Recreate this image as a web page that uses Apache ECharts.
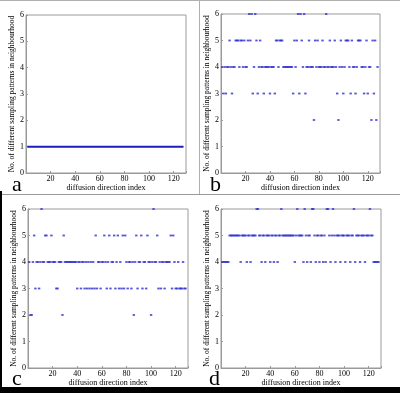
<!DOCTYPE html>
<html>
<head>
<meta charset="utf-8">
<script src="https://cdn.jsdelivr.net/npm/echarts@6/dist/echarts.min.js"></script>
<style>html,body{margin:0;padding:0;background:#fff}#c{width:400px;height:393px}</style>
</head>
<body>
<div id="c"></div>
<script>
// Values for diffusion direction index 1..128
const panelA = [1,1,1,1,1,1,1,1,1,1, 1,1,1,1,1,1,1,1,1,1, 1,1,1,1,1,1,1,1,1,1, 1,1,1,1,1,1,1,1,1,1,
  1,1,1,1,1,1,1,1,1,1, 1,1,1,1,1,1,1,1,1,1, 1,1,1,1,1,1,1,1,1,1, 1,1,1,1,1,1,1,1,1,1,
  1,1,1,1,1,1,1,1,1,1, 1,1,1,1,1,1,1,1,1,1, 1,1,1,1,1,1,1,1,1,1, 1,1,1,1,1,1,1,1,1,1,
  1,1,1,1,1,1,1,1];
const panelB = [4,3,4,3,4,4,5,4,3,4, 4,5,5,5,4,5,5,4,5,4, 4,5,6,5,6,3,4,6,5,3, 4,5,4,4,3,4,4,4,4,3,
  4,4,4,3,5,5,4,5,5,5, 4,4,4,4,4,4,4,4,3,5, 4,5,6,3,6,5,4,6,3,4, 4,5,4,4,4,2,5,4,5,4,
  4,4,5,4,4,6,4,4,5,4, 4,4,5,4,3,2,4,5,4,3, 4,5,5,5,4,3,5,4,4,3, 4,5,5,5,4,4,3,4,5,3,
  4,4,2,5,3,5,2,4];
const panelC = [4,2,2,4,5,3,4,4,3,4, 6,4,4,5,5,4,4,4,5,4, 4,4,3,3,4,4,4,2,5,4, 4,4,4,4,4,4,4,4,4,3,
  4,4,3,4,4,3,4,3,4,3, 4,3,4,3,5,3,4,4,3,4, 4,5,4,3,4,5,3,4,4,5, 3,4,5,3,4,3,5,3,5,4,
  3,4,4,3,4,2,4,5,3,4, 4,5,3,4,4,3,5,4,4,2, 4,6,4,4,5,3,4,3,4,4, 3,4,4,4,4,5,3,5,4,3,
  3,4,3,3,3,4,3,3];
const panelD = [4,4,4,4,4,4,5,5,5,5, 5,5,5,5,5,4,5,5,5,5, 4,5,5,4,5,5,5,5,6,6, 5,5,4,5,5,4,5,5,5,4,
  5,5,4,5,5,4,5,5,6,5, 5,5,5,5,5,5,5,5,5,4, 5,6,5,5,5,5,4,6,5,4, 5,5,4,6,6,5,4,5,5,4,
  5,5,4,5,4,6,6,5,4,5, 6,5,4,5,5,5,4,5,5,5, 4,5,5,5,4,5,5,6,4,5, 5,5,4,5,5,5,4,5,5,5,
  6,5,5,4,4,4,4,4];
const xTickLabels = [20, 40, 60, 80, 100, 120];
const yTickLabels = [0, 1, 2, 3, 4, 5, 6];
const panelLetters = ['a', 'b', 'c', 'd'];
const xName = 'diffusion direction index';
const yName = 'No. of different sampling patterns in neighbourhood';

const FONT = 'Liberation Serif';
const grids = [
  {left: 26, top: 15, width: 160, height: 158},
  {left: 221, top: 14, width: 159, height: 159},
  {left: 28, top: 209, width: 160, height: 159},
  {left: 221, top: 209, width: 160, height: 159}
];
const letterPos = [[12, 174], [210, 174], [12, 368], [209, 368]];
const toXY = arr => arr.map((v, i) => [i + 1, v]);
const panels = [panelA, panelB, panelC, panelD];

const axisGray = '#9a9a9a';
const xAxes = grids.map((g, i) => ({
  gridIndex: i, type: 'value', min: 0, max: 130, interval: 20,
  name: xName, nameLocation: 'middle', nameGap: 8,
  nameTextStyle: {fontFamily: FONT, fontSize: 8, color: '#000'},
  axisLine: {show: true, lineStyle: {color: axisGray, width: 1}},
  axisTick: {show: true, inside: true, length: 2, lineStyle: {color: axisGray}},
  splitLine: {show: false},
  axisLabel: {fontFamily: FONT, fontSize: 8, color: '#000', margin: 2,
    formatter: v => xTickLabels.includes(v) ? String(v) : ''}
}));
const yAxes = grids.map((g, i) => ({
  gridIndex: i, type: 'value', min: 0, max: 6, interval: 1,
  name: yName, nameLocation: 'middle', nameGap: 5, nameRotate: 90,
  nameTextStyle: {fontFamily: FONT, fontSize: 7.5, color: '#000'},
  axisLine: {show: true, lineStyle: {color: axisGray, width: 1}},
  axisTick: {show: true, inside: true, length: 2, lineStyle: {color: axisGray}},
  splitLine: {show: false},
  axisLabel: {fontFamily: FONT, fontSize: 8, color: '#000', margin: 2,
    formatter: v => yTickLabels.includes(v) ? String(v) : ''}
}));

const series = panels.map((arr, i) => i === 0 ? {
  type: 'line', xAxisIndex: i, yAxisIndex: i, data: toXY(arr),
  showSymbol: false, symbol: 'none', lineStyle: {color: '#1e1ebe', width: 2},
  silent: true, animation: false
} : {
  type: 'scatter', xAxisIndex: i, yAxisIndex: i, data: toXY(arr),
  symbol: 'rect', symbolSize: [2.4, 1.8], itemStyle: {color: '#2b2bd2'},
  silent: true, animation: false
});

const graphic = [
  {type: 'rect', shape: {x: 0, y: 0, width: 400, height: 1}, style: {fill: '#b0b0b0'}},
  {type: 'rect', shape: {x: 199, y: 0, width: 1, height: 194}, style: {fill: '#b0b0b0'}},
  {type: 'rect', shape: {x: 0, y: 194, width: 400, height: 1}, style: {fill: '#999'}},
  {type: 'rect', shape: {x: 0, y: 191, width: 2, height: 202}, style: {fill: '#000'}},
  {type: 'rect', shape: {x: 0, y: 387, width: 400, height: 6}, style: {fill: '#000'}}
].concat(panelLetters.map((t, i) => ({
  type: 'text', x: letterPos[i][0], y: letterPos[i][1],
  style: {text: t, fontFamily: FONT, fontSize: 22, fill: '#000', verticalAlign: 'top'}
})));

const chart = echarts.init(document.getElementById('c'), null, {renderer: 'canvas'});
chart.setOption({
  animation: false,
  backgroundColor: '#fff',
  grid: grids.map(g => Object.assign({show: true, borderColor: axisGray, borderWidth: 1}, g)),
  xAxis: xAxes, yAxis: yAxes, series: series, graphic: graphic
});
</script>
</body>
</html>
